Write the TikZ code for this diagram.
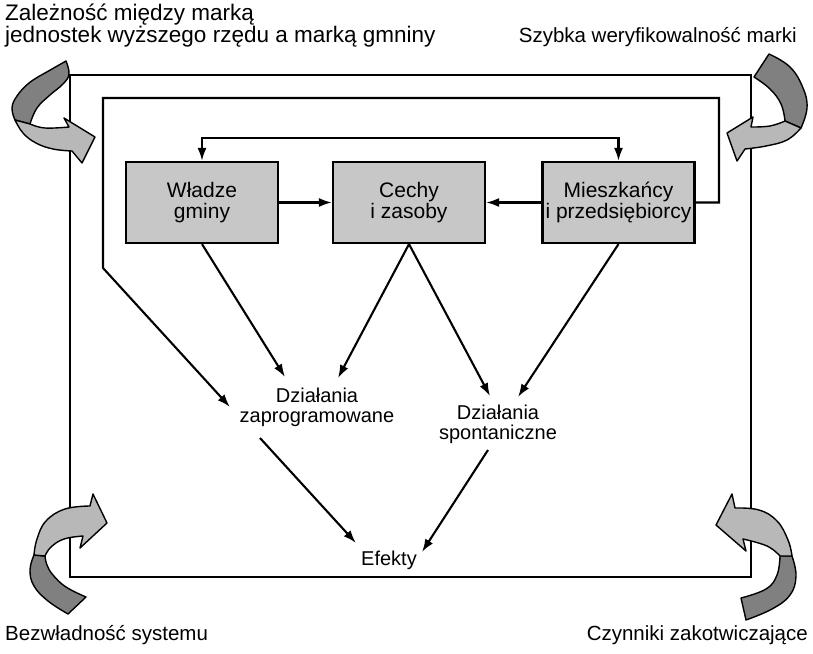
\documentclass[tikz,border=0pt]{standalone}
\usepackage{fontspec}
\setmainfont{Liberation Sans}
\usetikzlibrary{arrows.meta,calc}
\definecolor{boxgray}{gray}{0.78}
\definecolor{riblight}{gray}{0.72}
\definecolor{ribdark}{gray}{0.50}
\begin{document}
\begin{tikzpicture}[x=1pt,y=-1pt,
  box/.style={draw, line width=2.2pt, fill=boxgray, minimum width=152pt, minimum height=81pt,
    align=center, font=\fontsize{21}{21}\selectfont, inner sep=0pt},
  txt/.style={align=center, font=\fontsize{20}{20}\selectfont, inner sep=0pt},
  lbl/.style={align=left, font=\fontsize{20.5}{20}\selectfont, inner sep=0pt},
  conn/.style={line width=2.1pt, -{Latex[length=13pt,width=9pt]}},
  conn2/.style={line width=2.1pt, {Latex[length=13pt,width=9pt]}-{Latex[length=13pt,width=9pt]}},
  frame/.style={line width=2.1pt},
  ribL/.style={fill=riblight, draw=black, line width=1.4pt, line join=round},
  ribD/.style={fill=ribdark, draw=black, line width=1.4pt, line join=round}]
\useasboundingbox (0,0) rectangle (813,653);

% outer frame
\draw[frame] (70,75) rectangle (751,577);

% boxes
\node[box] (wl) at (202,202.5) {Władze\\gminy};
\node[box] (ce) at (409,202.5) {Cechy\\i zasoby};
\node[box] (mi) at (618.5,202.5) {Mieszkańcy\\i przedsiębiorcy};

% texts
\node[txt] (za) at (317,407) {Działania\\zaprogramowane};
\node[txt] (sp) at (498,424) {Działania\\spontaniczne};
\node[txt, anchor=base] (ef) at (389,565) {Efekty};

% labels
\node[lbl, font=\fontsize{22.5}{20}\selectfont, anchor=base west] (l1) at (5,42) {Zależność między marką\\jednostek wyższego rzędu a marką gmniny};
\node[lbl, anchor=base east] (l2) at (797,42) {Szybka weryfikowalność marki};
\node[lbl, anchor=base west] (l3) at (5,640) {Bezwładność systemu};
\node[lbl, anchor=base east] (l4) at (808,640) {Czynniki zakotwiczające};

% coordinates
\coordinate (lp1) at (719,98);
\coordinate (lp2) at (103,98);
\coordinate (lp3) at (103,268);
\coordinate (zin0) at (230,407);
\coordinate (zin1) at (285,377);
\coordinate (zin2) at (338,378);
\coordinate (sin1) at (490,396);
\coordinate (sin2) at (518,397);
\coordinate (zout) at (260,438);
\coordinate (sout) at (488,450);
\coordinate (ein1) at (356,543);
\coordinate (ein2) at (422,552);

% connectors
\draw[conn] (wl) -- (ce);
\draw[conn] (mi) -- (ce);
\draw[conn2] (wl.north) -- ++(0,-23) -| (mi.north);
\draw[conn] (mi.east) -| (lp1) -- (lp2) -- (lp3) -- (zin0);
\draw[conn] (wl.south) -- (zin1);
\draw[conn] (ce.south) -- (zin2);
\draw[conn] (ce.south) -- (sin1);
\draw[conn] (mi.south) -- (sin2);
\draw[conn] (zout) -- (ein1);
\draw[conn] (sout) -- (ein2);

% top-left ribbon arrow
\path[ribD] plot[smooth,tension=.7] coordinates {(45,73) (29,83) (17,96) (12,108) (15,120)}
  -- (30,124) -- plot[smooth,tension=.7] coordinates {(30,124) (37,108) (50,95) (63,84) (69,74) (66,61)} -- cycle;
\path[ribL] plot[smooth,tension=.7] coordinates {(15,120) (23,133) (36,143) (53,149) (72,151)}
  -- (82,163) -- (95,137) -- (64,118) -- (69,127)
  -- plot[smooth,tension=.7] coordinates {(69,127) (45,128) (30,124)} -- cycle;

% top-right ribbon arrow
\path[ribD] plot[smooth,tension=.7] coordinates {(769,54) (790,67) (803,88) (807,108) (801,128)}
  -- (785,121) -- plot[smooth,tension=.7] coordinates {(785,121) (781,104) (770,89) (754,77)} -- cycle;
\path[ribL] plot[smooth,tension=.7] coordinates {(801,128) (787,140) (766,146) (745,149)}
  -- (737,161) -- (727,133) -- (753,117) -- (751,127)
  -- plot[smooth,tension=.7] coordinates {(751,127) (770,126) (785,121)} -- cycle;

% bottom-left ribbon arrow
\path[ribD] plot[smooth,tension=.7] coordinates {(34,555) (30,570) (34,586) (48,601) (68,614)}
  -- (86,597) -- plot[smooth,tension=.7] coordinates {(86,597) (66,587) (53,575) (47,565) (45,556)} -- cycle;
\path[ribL] plot[smooth,tension=.7] coordinates {(90,506) (65,509) (46,521) (37,539) (34,555)}
  -- (45,556) -- plot[smooth,tension=.7] coordinates {(45,556) (51,547) (64,539) (83,536)}
  -- (80,548) -- (107,523) -- (93,494) -- cycle;

% bottom-right ribbon arrow
\path[ribD] plot[smooth,tension=.7] coordinates {(792,556) (796,576) (790,595) (772,609) (746,620)}
  -- (741,598) -- plot[smooth,tension=.7] coordinates {(741,598) (766,589) (777,575) (780,556)} -- cycle;
\path[ribL] plot[smooth,tension=.7] coordinates {(735,508) (759,510) (777,521) (788,540) (792,556)}
  -- (780,556) -- plot[smooth,tension=.7] coordinates {(780,556) (767,546) (743,539)}
  -- (746,551) -- (716,525) -- (732,494) -- cycle;
\end{tikzpicture}
\end{document}
